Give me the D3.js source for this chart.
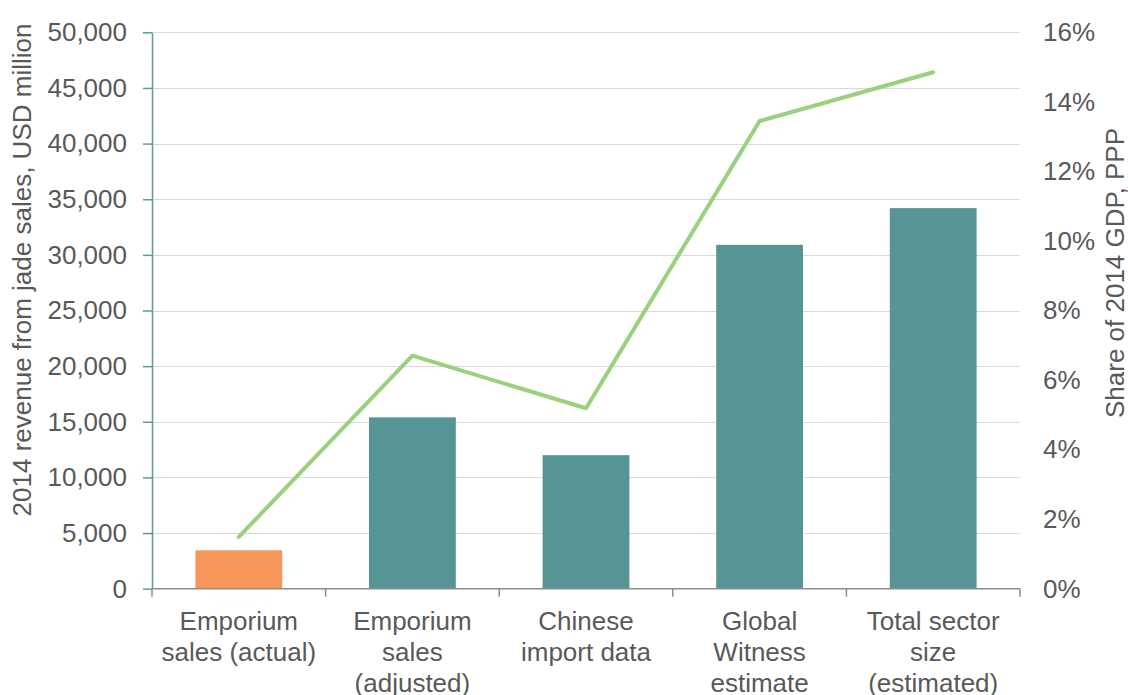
<!DOCTYPE html>
<html>
<head>
<meta charset="utf-8">
<script src="https://cdn.jsdelivr.net/npm/d3@7"></script>
<style>
  html, body { margin: 0; padding: 0; background: #fff; }
  svg text { font-family: "Liberation Sans", Arial, sans-serif; fill: #595959; }
</style>
</head>
<body>
<svg id="chart" width="1128" height="695"></svg>
<script>
const categories = [
  ["Emporium", "sales (actual)"],
  ["Emporium", "sales", "(adjusted)"],
  ["Chinese", "import data"],
  ["Global", "Witness", "estimate"],
  ["Total sector", "size", "(estimated)"]
];
const revenue = [3450, 15400, 12000, 30900, 34200];
const gdpShare = [1.49, 6.70, 5.19, 13.45, 14.85];
const barColors = ["#F79659", "#579496", "#579496", "#579496", "#579496"];
const leftTicks = [0, 5000, 10000, 15000, 20000, 25000, 30000, 35000, 40000, 45000, 50000];
const rightTicks = [0, 2, 4, 6, 8, 10, 12, 14, 16];
const leftTitle = "2014 revenue from jade sales, USD million";
const rightTitle = "Share of 2014 GDP, PPP";

const FS = "26px";
const svg = d3.select("#chart");
const m = { left: 152, right: 1020, top: 32.3, bottom: 588.7 };

const x = d3.scaleBand().domain(d3.range(categories.length)).range([m.left, m.right]).paddingInner(0.5).paddingOuter(0.25);
const xb = d3.scaleBand().domain(d3.range(categories.length)).range([m.left, m.right]);
const yL = d3.scaleLinear().domain([0, 50000]).range([m.bottom, m.top]);
const yR = d3.scaleLinear().domain([0, 16]).range([m.bottom, m.top]);

// gridlines
svg.append("g").selectAll("line").data(leftTicks.filter(d => d > 0)).join("line")
  .attr("x1", m.left).attr("x2", m.right)
  .attr("y1", d => Math.round(yL(d)) + 0.5).attr("y2", d => Math.round(yL(d)) + 0.5)
  .attr("stroke", "#D9D9D9").attr("stroke-width", 1);

// bars
svg.append("g").selectAll("rect").data(revenue).join("rect")
  .attr("x", (d, i) => x(i)).attr("width", x.bandwidth())
  .attr("y", d => yL(d)).attr("height", d => yL(0) - yL(d))
  .attr("fill", (d, i) => barColors[i]);

// left axis
const leftAxis = svg.append("g").attr("transform", `translate(${m.left},0)`)
  .call(d3.axisLeft(yL).tickValues(leftTicks).tickFormat(d3.format(",")).tickSize(9).tickPadding(16).tickSizeOuter(0));
leftAxis.select(".domain").attr("stroke", "#5B9A9C").attr("stroke-width", 1.5);
leftAxis.selectAll(".tick line").attr("stroke", "#5B9A9C").attr("stroke-width", 1.5);
leftAxis.selectAll(".tick text").style("font-size", FS).attr("fill", "#595959");

// bottom axis
const bottom = svg.append("g");
bottom.append("line").attr("x1", m.left).attr("x2", m.right).attr("y1", m.bottom).attr("y2", m.bottom)
  .attr("stroke", "#8C8C8C").attr("stroke-width", 1.5);
const bounds = d3.range(categories.length).map(i => xb(i)).concat([m.right]);
bottom.selectAll("line.t").data(bounds).join("line").attr("class", "t")
  .attr("x1", d => d).attr("x2", d => d).attr("y1", m.bottom).attr("y2", m.bottom + 8)
  .attr("stroke", "#8C8C8C").attr("stroke-width", 1.5);

// category labels
const lab = svg.append("g").selectAll("text").data(categories).join("text")
  .attr("text-anchor", "middle").style("font-size", FS)
  .attr("x", (d, i) => xb(i) + xb.bandwidth() / 2).attr("y", 630);
lab.selectAll("tspan").data(d => d).join("tspan")
  .attr("x", function() { return d3.select(this.parentNode).attr("x"); })
  .attr("dy", (d, j) => j === 0 ? 0 : 31)
  .text(d => d);

// right axis labels
const rightAxis = svg.append("g").attr("transform", `translate(${m.right},0)`)
  .call(d3.axisRight(yR).tickValues(rightTicks).tickFormat(d => d + "%").tickSize(0).tickPadding(23));
rightAxis.select(".domain").remove();
rightAxis.selectAll(".tick text").style("font-size", FS).attr("fill", "#595959");

// line
const line = d3.line().x((d, i) => xb(i) + xb.bandwidth() / 2).y(d => yR(d));
svg.append("path").datum(gdpShare).attr("d", line)
  .attr("fill", "none").attr("stroke", "#9AD17F").attr("stroke-width", 4)
  .attr("stroke-linejoin", "round").attr("stroke-linecap", "round");

// axis titles
svg.append("text").attr("transform", `translate(31,270) rotate(-90)`)
  .attr("text-anchor", "middle").style("font-size", FS).text(leftTitle);
svg.append("text").attr("transform", `translate(1124,273) rotate(-90)`)
  .attr("text-anchor", "middle").style("font-size", FS).text(rightTitle);
</script>
</body>
</html>
